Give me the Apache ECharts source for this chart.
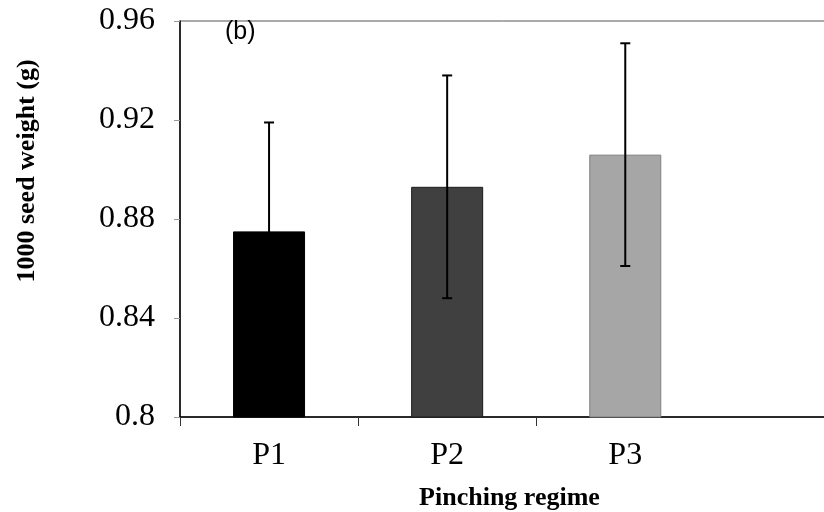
<!DOCTYPE html>
<html>
<head>
<meta charset="utf-8">
<title>1000 seed weight by pinching regime</title>
<script src="https://cdn.jsdelivr.net/npm/echarts@6/dist/echarts.min.js"></script>
<style>
  html, body { margin: 0; padding: 0; background: #fff; }
  #chart { width: 824px; height: 512px; }
</style>
</head>
<body>
<div id="chart"></div>
<script>
// Pinching regimes and their mean 1000 seed weight (g) with error (±)
const categories = ['P1', 'P2', 'P3'];
const meanWeight = [0.875, 0.893, 0.906];
const errorWeight = [0.044, 0.045, 0.045];
const barColors = ['#000000', '#404040', '#a6a6a6'];
const barBorders = ['#000000', '#1a1a1a', '#7f7f7f'];
const yTicks = [0.8, 0.84, 0.88, 0.92, 0.96];

const serif = '"Liberation Serif", "Times New Roman", serif';

// Each regime sits in the middle of a one-unit band on the x axis
const barData = categories.map((c, i) => ({
  value: [i + 0.5, meanWeight[i]],
  itemStyle: { color: barColors[i], borderColor: barBorders[i], borderWidth: 1 }
}));
const errData = categories.map((c, i) => [i + 0.5, meanWeight[i] - errorWeight[i], meanWeight[i] + errorWeight[i]]);

const chart = echarts.init(document.getElementById('chart'), null, { renderer: 'canvas' });

chart.setOption({
  animation: false,
  backgroundColor: '#ffffff',
  title: {
    text: '(b)',
    left: 220,
    top: 15,
    textStyle: { fontFamily: '"Liberation Sans", Arial, sans-serif', fontSize: 25, fontWeight: 'normal', color: '#000' }
  },
  grid: {
    // the plot area runs on past the right edge of the canvas
    left: 180, top: 21, bottom: 95, width: 659,
    outerBoundsMode: 'none',
    containLabel: false,
    show: true, borderColor: '#555', borderWidth: 1, backgroundColor: 'transparent'
  },
  xAxis: {
    type: 'value',
    min: 0,
    max: 3.7,
    name: 'Pinching regime',
    nameLocation: 'middle',
    nameGap: 68,
    nameTextStyle: { fontFamily: serif, fontSize: 26, fontWeight: 'bold', color: '#000' },
    splitLine: { show: false },
    axisLine: { show: true, lineStyle: { color: '#000', width: 1.5 } },
    axisTick: { show: true, customValues: [0, 1, 2], length: 9, lineStyle: { color: '#333', width: 1 } },
    axisLabel: {
      customValues: categories.map((c, i) => i + 0.5),
      formatter: v => categories[Math.floor(v)] || '',
      margin: 23,
      fontFamily: serif, fontSize: 32, color: '#000'
    }
  },
  yAxis: {
    type: 'value',
    min: yTicks[0],
    max: yTicks[yTicks.length - 1],
    interval: 0.04,
    splitLine: { show: false },
    axisLine: { show: true, lineStyle: { color: '#000', width: 1.5 } },
    axisTick: { show: true, length: 6, lineStyle: { color: '#999', width: 1 } },
    axisLabel: {
      margin: 25,
      formatter: v => String(+v.toFixed(2)),
      fontFamily: serif, fontSize: 32, color: '#000'
    }
  },
  graphic: [{
    type: 'text',
    x: 27, y: 171,
    rotation: Math.PI / 2,
    style: {
      text: '1000 seed weight (g)',
      fontFamily: serif, fontSize: 26, fontWeight: 'bold', fill: '#000',
      align: 'center', verticalAlign: 'middle'
    }
  }],
  series: [
    {
      type: 'bar',
      barWidth: 72,
      data: barData,
      z: 2
    },
    {
      // error bars: whisker plus caps
      type: 'custom',
      z: 5,
      data: errData,
      renderItem: (params, api) => {
        const x = api.value(0);
        const lo = api.coord([x, api.value(1)]);
        const hi = api.coord([x, api.value(2)]);
        const cap = 5;
        const style = { stroke: '#000', lineWidth: 2 };
        return {
          type: 'group',
          children: [
            { type: 'line', shape: { x1: hi[0], y1: hi[1], x2: lo[0], y2: lo[1] }, style },
            { type: 'line', shape: { x1: hi[0] - cap, y1: hi[1], x2: hi[0] + cap, y2: hi[1] }, style },
            { type: 'line', shape: { x1: lo[0] - cap, y1: lo[1], x2: lo[0] + cap, y2: lo[1] }, style }
          ]
        };
      }
    }
  ]
});
</script>
</body>
</html>
